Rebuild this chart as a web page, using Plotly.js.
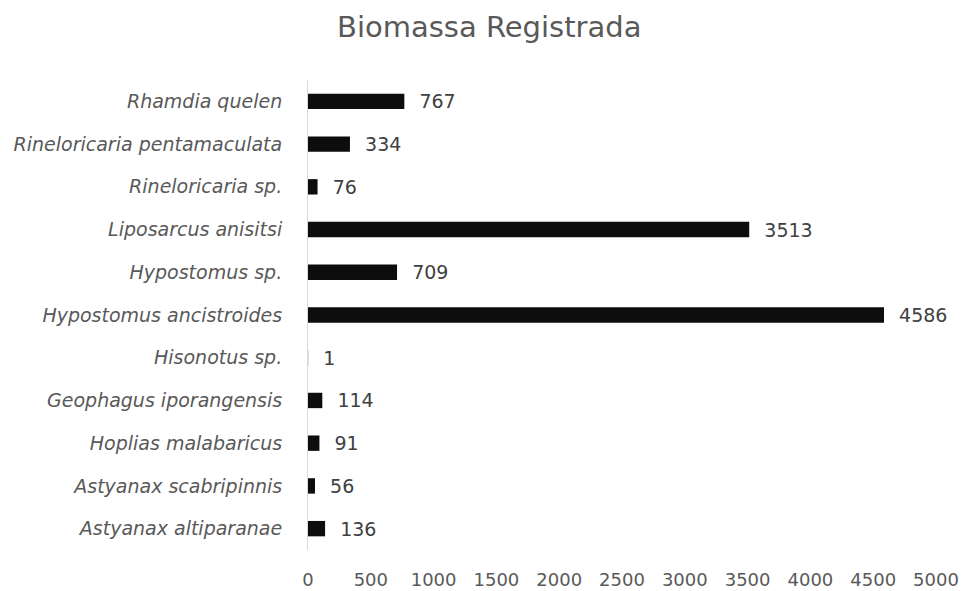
<!DOCTYPE html>
<html>
<head>
<meta charset="utf-8">
<script src="https://cdn.plot.ly/plotly-3.0.1.min.js"></script>
<style>html,body{margin:0;padding:0;background:#fff;}#chart{width:963px;height:591px;}</style>
</head>
<body>
<div id="chart"></div>
<script>
var species = ["Astyanax altiparanae","Astyanax scabripinnis","Hoplias malabaricus","Geophagus iporangensis","Hisonotus sp.","Hypostomus ancistroides","Hypostomus sp.","Liposarcus anisitsi","Rineloricaria sp.","Rineloricaria pentamaculata","Rhamdia quelen"];
var biomass = [136,56,91,114,1,4586,709,3513,76,334,767];
var xTicks = [0,500,1000,1500,2000,2500,3000,3500,4000,4500,5000];

var fontFam = "'DejaVu Sans', sans-serif";
var trace = {
  type: "bar",
  orientation: "h",
  y: species,
  x: biomass,
  marker: {color: "#0d0d0d"},
  text: biomass.map(function(v){return String(v);}),
  texttemplate: "  %{text}",
  textposition: "outside",
  constraintext: "none",
  cliponaxis: false,
  textfont: {family: fontFam, size: 19, color: "#404040"},
  hoverinfo: "none"
};
var layout = {
  width: 963, height: 591,
  margin: {l: 308, r: 27, t: 80, b: 41},
  paper_bgcolor: "#fff", plot_bgcolor: "#fff",
  bargap: 0.64,
  showlegend: false,
  title: {text: "Biomassa Registrada", font: {family: fontFam, size: 29, color: "#595959"}, x: 0.508, xref: "container", xanchor: "center", y: 0.955, yref: "container", yanchor: "middle"},
  xaxis: {range: [0, 5000], tickvals: xTicks, ticktext: xTicks.map(String), showgrid: false, zeroline: false, showline: false, ticks: "outside", ticklen: 13, tickcolor: "rgba(0,0,0,0)", tickfont: {family: fontFam, size: 18, color: "#595959"}},
  yaxis: {categoryorder: "array", categoryarray: species, showline: true, linecolor: "#d9d9d9", linewidth: 1, showgrid: false, zeroline: false, ticks: "outside", ticklen: 21, tickcolor: "rgba(0,0,0,0)", tickfont: {family: fontFam, size: 19, color: "#595959", style: "italic"}}
};
Plotly.newPlot("chart", [trace], layout, {staticPlot: true, displayModeBar: false});
</script>
</body>
</html>
